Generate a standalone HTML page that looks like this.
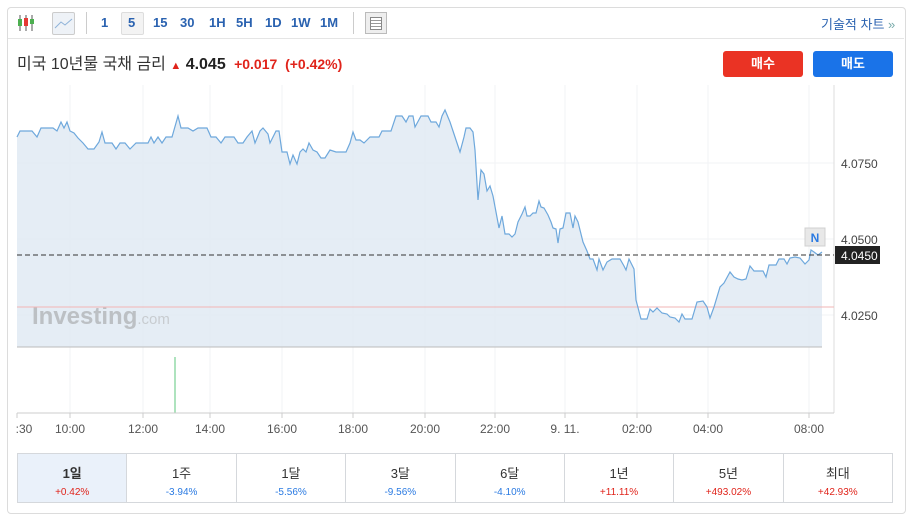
<!DOCTYPE html>
<html><head><meta charset="utf-8"><style>
body{margin:0;width:914px;height:521px;background:#fff;font-family:"Liberation Sans","Noto Sans CJK KR",sans-serif;position:relative;overflow:hidden}
.box{position:absolute;left:7px;top:7px;width:897px;height:505px;border:1px solid #dcdcdc;border-radius:4px}
.tb{position:absolute;top:15px;font-size:13px;font-weight:bold;color:#2a62b0}
.cells{position:absolute;left:17px;top:453px;width:876px;height:50px;display:flex;border:1px solid #d5d8dc;box-sizing:border-box}
.cells div{flex:1;border-left:1px solid #d5d8dc;text-align:center;font-size:13px;color:#333;padding-top:9px}
.cells div:first-child{border-left:none;background:#eaf1fa}
.cells span{display:block;font-size:10px;margin-top:5px}
.r{color:#e0241b}.b{color:#2a7ae2}
</style></head><body>
<div class="box"></div>
<div style="position:absolute;left:8px;top:38px;width:896px;border-top:1px solid #e5e5e5"></div>
<svg style="position:absolute;left:17px;top:14px" width="18" height="18"><g stroke="#555" stroke-width="1"><line x1="3" y1="1" x2="3" y2="17"/><line x1="9" y1="1" x2="9" y2="17"/><line x1="15" y1="1" x2="15" y2="17"/></g><rect x="1" y="5" width="4" height="7" fill="#4caf50"/><rect x="7" y="4" width="4" height="8" fill="#e53935"/><rect x="13" y="5" width="4" height="5" fill="#4caf50"/></svg>
<div style="position:absolute;left:52px;top:12px;width:21px;height:21px;background:#eef2f7;border:1px solid #ccc;border-radius:2px"><svg width="21" height="21"><polyline points="2,15 8,9 12,12 19,6" fill="none" stroke="#8fb3d9"/></svg></div>
<div style="position:absolute;left:86px;top:12px;height:22px;border-left:1px solid #ccc"></div>
<div style="position:absolute;left:121px;top:12px;width:21px;height:21px;background:#f3f3f3;border:1px solid #ddd;border-radius:2px"></div>
<div class="tb" style="left:101px">1</div><div class="tb" style="left:128px">5</div><div class="tb" style="left:153px">15</div><div class="tb" style="left:180px">30</div><div class="tb" style="left:209px">1H</div><div class="tb" style="left:236px">5H</div><div class="tb" style="left:265px">1D</div><div class="tb" style="left:291px">1W</div><div class="tb" style="left:320px">1M</div>
<div style="position:absolute;left:353px;top:12px;height:22px;border-left:1px solid #ccc"></div>
<div style="position:absolute;left:365px;top:12px;width:20px;height:20px;background:#eee;border:1px solid #bbb"><div style="margin:4px;height:11px;border:1px solid #888;background:repeating-linear-gradient(#fff 0 2px,#999 2px 3px)"></div></div>
<div style="position:absolute;left:821px;top:14px;font-size:13px;color:#2a62b0">기술적 차트 <span style="color:#7aa">»</span></div>
<div style="position:absolute;left:17px;top:50px;font-size:16px;color:#333">미국 10년물 국채 금리 <span class="r" style="font-size:11px">▲</span> <b style="color:#222">4.045</b> <b class="r" style="font-size:14px">&nbsp;+0.017&nbsp; (+0.42%)</b></div>
<div style="position:absolute;left:723px;top:51px;width:80px;height:26px;background:#ea3324;border-radius:3px;color:#fff;font-size:13px;text-align:center;line-height:26px;font-weight:bold">매수</div>
<div style="position:absolute;left:813px;top:51px;width:80px;height:26px;background:#1a73e8;border-radius:3px;color:#fff;font-size:13px;text-align:center;line-height:26px;font-weight:bold">매도</div>
<svg style="position:absolute;left:0;top:0" width="914" height="450">
<g stroke="#f2f3f5"><line x1="17" y1="163" x2="834" y2="163"/><line x1="17" y1="239" x2="834" y2="239"/><line x1="17" y1="315" x2="834" y2="315"/>
<line x1="70" y1="85" x2="70" y2="413"/><line x1="143" y1="85" x2="143" y2="413"/><line x1="210" y1="85" x2="210" y2="413"/><line x1="282" y1="85" x2="282" y2="413"/><line x1="353" y1="85" x2="353" y2="413"/><line x1="425" y1="85" x2="425" y2="413"/><line x1="495" y1="85" x2="495" y2="413"/><line x1="565" y1="85" x2="565" y2="413"/><line x1="637" y1="85" x2="637" y2="413"/><line x1="708" y1="85" x2="708" y2="413"/><line x1="809" y1="85" x2="809" y2="413"/></g>
<line x1="834" y1="85" x2="834" y2="413" stroke="#ddd"/>
<polygon fill="#dfe9f3" fill-opacity="0.8" points="17,347 17,137 20,131 32,131 37,137 41,128 53,128 57,131 61,122 64,128 67,122 70,131 74,133 78,138 83,143 88,149 94,149 99,142 102,132 105,143 112,143 116,149 120,143 125,143 130,149 136,143 148,143 151,137 154,143 158,137 162,143 166,137 172,137 178,116 181,128 188,128 193,131 198,128 207,128 211,137 216,137 221,143 225,137 234,137 238,143 243,143 247,137 252,131 255,143 260,131 263,128 268,134 270,143 276,131 279,131 282,152 287,152 290,164 293,155 297,164 300,152 303,149 306,152 309,143 313,150 317,152 321,158 325,158 330,150 336,152 346,152 350,143 353,132 356,140 360,140 364,143 370,137 379,137 382,131 391,131 396,116 402,116 406,122 409,116 413,116 415,127 421,116 428,116 431,122 436,122 439,127 442,116 445,110 450,122 453,131 457,143 460,152 464,137 466,128 470,128 473,132 475,150 478,200 481,170 484,174 487,191 490,186 493,196 496,212 499,228 502,216 505,234 509,234 512,237 515,234 518,222 522,214 525,207 527,216 530,216 533,213 536,213 539,201 541,207 544,208 548,215 551,222 553,228 556,229 558,243 560,229 563,228 566,213 570,213 573,228 575,216 578,222 583,242 587,251 590,259 593,259 597,270 599,259 603,270 607,262 612,259 620,259 624,266 626,270 629,259 634,269 636,300 641,319 647,319 650,309 653,312 657,308 662,313 667,314 670,317 675,318 679,322 682,314 685,319 692,319 697,302 703,301 707,307 710,318 714,307 720,287 724,283 730,272 734,277 738,279 742,280 746,279 750,266 754,271 763,271 766,277 769,265 776,265 779,259 784,259 787,264 790,258 795,257 800,258 805,264 809,260 811,250 814,252 818,255 822,252 822,347"/>
<text x="32" y="324" font-size="24" font-weight="bold" fill="#bcc0c4" font-family="Liberation Sans,sans-serif">Investing<tspan font-size="15" font-weight="normal" fill="#c8ccd0">.com</tspan></text>
<line x1="17" y1="347" x2="822" y2="347" stroke="#bbb"/>
<line x1="17" y1="307" x2="834" y2="307" stroke="#f2b5b5"/>
<polyline fill="none" stroke="#6ea8dc" stroke-width="1.2" points="17,137 20,131 32,131 37,137 41,128 53,128 57,131 61,122 64,128 67,122 70,131 74,133 78,138 83,143 88,149 94,149 99,142 102,132 105,143 112,143 116,149 120,143 125,143 130,149 136,143 148,143 151,137 154,143 158,137 162,143 166,137 172,137 178,116 181,128 188,128 193,131 198,128 207,128 211,137 216,137 221,143 225,137 234,137 238,143 243,143 247,137 252,131 255,143 260,131 263,128 268,134 270,143 276,131 279,131 282,152 287,152 290,164 293,155 297,164 300,152 303,149 306,152 309,143 313,150 317,152 321,158 325,158 330,150 336,152 346,152 350,143 353,132 356,140 360,140 364,143 370,137 379,137 382,131 391,131 396,116 402,116 406,122 409,116 413,116 415,127 421,116 428,116 431,122 436,122 439,127 442,116 445,110 450,122 453,131 457,143 460,152 464,137 466,128 470,128 473,132 475,150 478,200 481,170 484,174 487,191 490,186 493,196 496,212 499,228 502,216 505,234 509,234 512,237 515,234 518,222 522,214 525,207 527,216 530,216 533,213 536,213 539,201 541,207 544,208 548,215 551,222 553,228 556,229 558,243 560,229 563,228 566,213 570,213 573,228 575,216 578,222 583,242 587,251 590,259 593,259 597,270 599,259 603,270 607,262 612,259 620,259 624,266 626,270 629,259 634,269 636,300 641,319 647,319 650,309 653,312 657,308 662,313 667,314 670,317 675,318 679,322 682,314 685,319 692,319 697,302 703,301 707,307 710,318 714,307 720,287 724,283 730,272 734,277 738,279 742,280 746,279 750,266 754,271 763,271 766,277 769,265 776,265 779,259 784,259 787,264 790,258 795,257 800,258 805,264 809,260 811,250 814,252 818,255 822,252"/>
<line x1="17" y1="255" x2="834" y2="255" stroke="#333" stroke-dasharray="5,3"/>
<rect x="805" y="228" width="20" height="18" fill="#e8e8e8" stroke="#d0d0d0"/>
<text x="815" y="242" font-size="12" font-weight="bold" fill="#2a7ae2" text-anchor="middle">N</text>
<rect x="835" y="246" width="45" height="18" fill="#222"/>
<text x="841" y="260" font-size="12" fill="#fff">4.0450</text>
<g font-size="12" fill="#444"><text x="841" y="168">4.0750</text><text x="841" y="244">4.0500</text><text x="841" y="320">4.0250</text></g>
<line x1="175" y1="357" x2="175" y2="413" stroke="#5cc77c"/>
<line x1="17" y1="413" x2="834" y2="413" stroke="#ccc"/>
<g stroke="#ccc"><line x1="17" y1="413" x2="17" y2="418"/><line x1="70" y1="413" x2="70" y2="418"/><line x1="143" y1="413" x2="143" y2="418"/><line x1="210" y1="413" x2="210" y2="418"/><line x1="282" y1="413" x2="282" y2="418"/><line x1="353" y1="413" x2="353" y2="418"/><line x1="425" y1="413" x2="425" y2="418"/><line x1="495" y1="413" x2="495" y2="418"/><line x1="565" y1="413" x2="565" y2="418"/><line x1="637" y1="413" x2="637" y2="418"/><line x1="708" y1="413" x2="708" y2="418"/><line x1="809" y1="413" x2="809" y2="418"/></g>
<g font-size="12" fill="#555" text-anchor="middle"><text x="24" y="433">:30</text><text x="70" y="433">10:00</text><text x="143" y="433">12:00</text><text x="210" y="433">14:00</text><text x="282" y="433">16:00</text><text x="353" y="433">18:00</text><text x="425" y="433">20:00</text><text x="495" y="433">22:00</text><text x="565" y="433">9. 11.</text><text x="637" y="433">02:00</text><text x="708" y="433">04:00</text><text x="809" y="433">08:00</text></g>
</svg>
<div class="cells">
<div><b>1일</b><span class="r">+0.42%</span></div>
<div>1주<span class="b">-3.94%</span></div>
<div>1달<span class="b">-5.56%</span></div>
<div>3달<span class="b">-9.56%</span></div>
<div>6달<span class="b">-4.10%</span></div>
<div>1년<span class="r">+11.11%</span></div>
<div>5년<span class="r">+493.02%</span></div>
<div>최대<span class="r">+42.93%</span></div>
</div>
</body></html>
